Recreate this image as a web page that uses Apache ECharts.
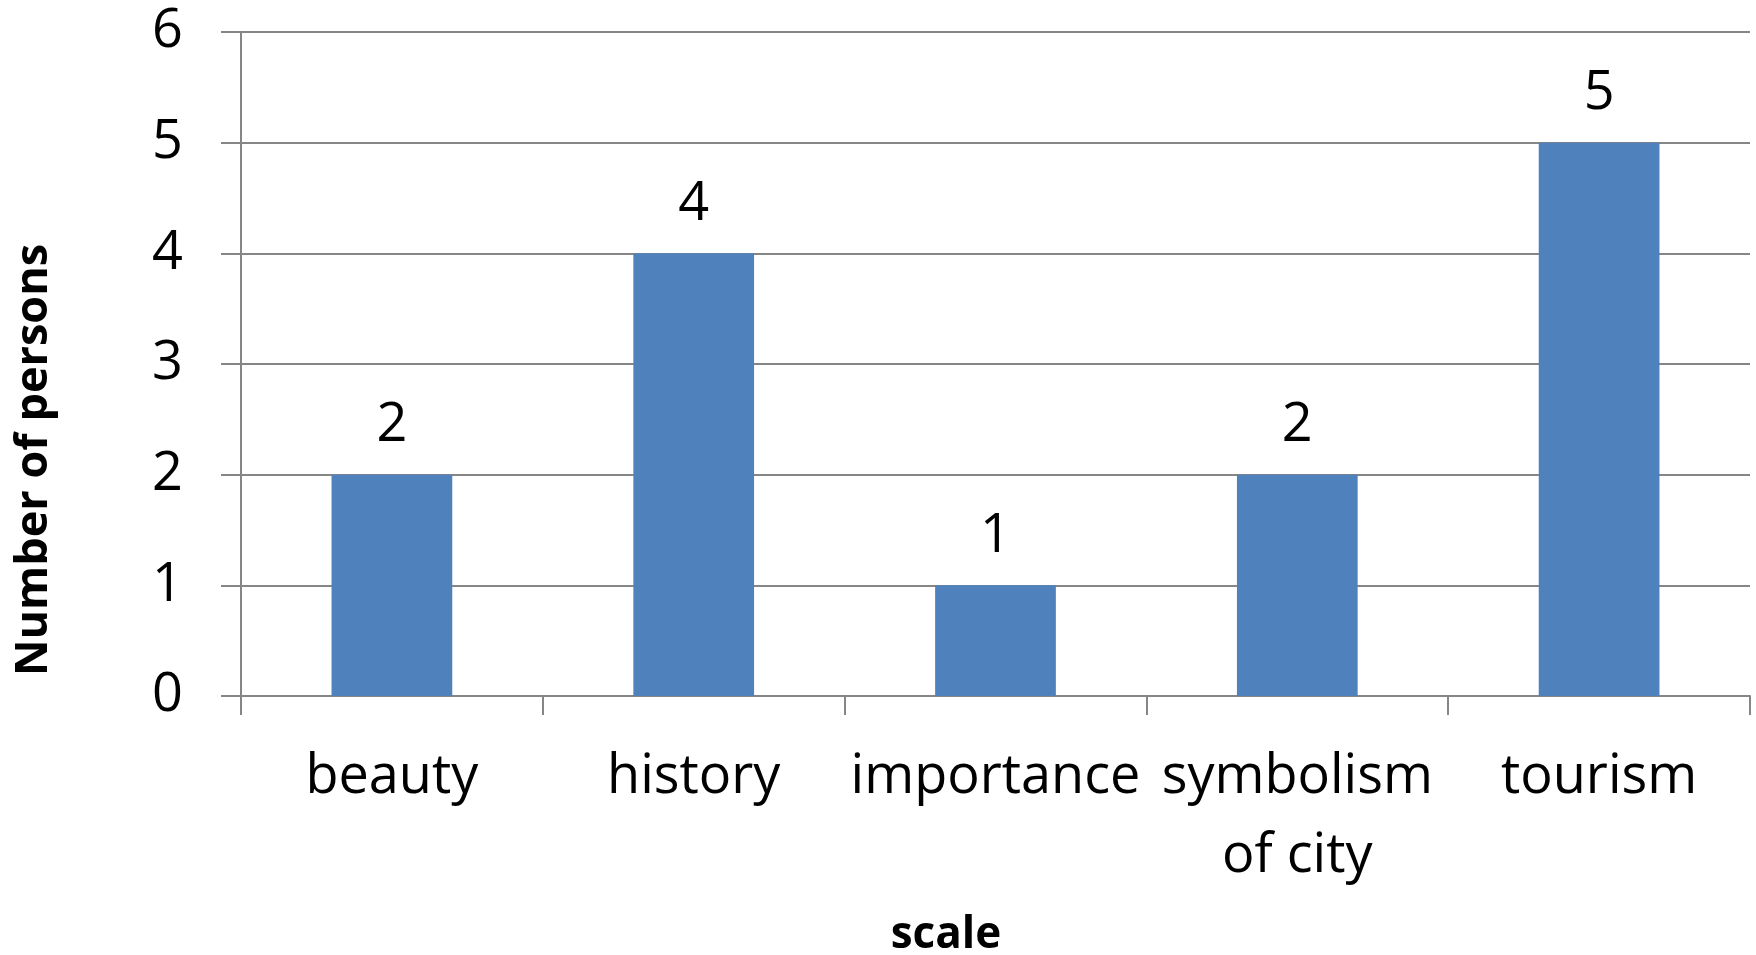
<!DOCTYPE html>
<html>
<head>
<meta charset="utf-8">
<script src="https://cdn.jsdelivr.net/npm/echarts@6/dist/echarts.min.js"></script>
<style>
html, body { margin: 0; padding: 0; background: #fff; }
#chart { width: 1756px; height: 955px; }
</style>
</head>
<body>
<div id="chart"></div>
<script>
// categories and counts
var categories = ['beauty', 'history', 'importance', 'symbolism of city', 'tourism'];
var persons = [2, 4, 1, 2, 5];
var yTicks = [0, 1, 2, 3, 4, 5, 6];

var gray = '#868686';
var font = '"Open Sans", "Noto Sans", sans-serif';

var chart = echarts.init(document.getElementById('chart'));
chart.setOption({
    animation: false,
    grid: { left: 241, right: 6, top: 32, bottom: 259, outerBoundsMode: 'none' },
    xAxis: {
        type: 'category',
        data: categories,
        name: 'scale',
        nameLocation: 'middle',
        nameGap: 217,
        nameTextStyle: {
            fontFamily: font, fontWeight: 'bold', fontSize: 44, lineHeight: 44,
            color: '#000', padding: [0, 99, 0, 0]
        },
        axisLine: { lineStyle: { color: gray, width: 2 } },
        axisTick: { show: true, length: 19, lineStyle: { color: gray, width: 2 } },
        axisLabel: {
            margin: 42,
            fontFamily: font, fontSize: 54, lineHeight: 79, color: '#000',
            interval: 0,
            formatter: function (v) { return v.replace('symbolism ', 'symbolism\n'); }
        }
    },
    yAxis: {
        type: 'value',
        min: 0,
        max: yTicks[yTicks.length - 1],
        interval: 1,
        name: 'Number of persons',
        nameLocation: 'middle',
        nameRotate: 90,
        nameGap: 184,
        nameTextStyle: {
            fontFamily: font, fontWeight: 'bold', fontSize: 45, lineHeight: 46,
            color: '#000', padding: [0, 192, 0, 0]
        },
        axisLine: { show: true, lineStyle: { color: gray, width: 2 } },
        axisTick: { show: true, length: 20, lineStyle: { color: gray, width: 2 } },
        axisLabel: { margin: 58, fontFamily: font, fontSize: 54, color: '#000' },
        splitLine: { lineStyle: { color: gray, width: 2 } }
    },
    series: [{
        type: 'bar',
        data: persons,
        barWidth: '40%',
        itemStyle: { color: '#4F81BD' },
        label: {
            show: true,
            position: 'top',
            distance: 22,
            fontFamily: font, fontSize: 54, color: '#000'
        }
    }]
});
</script>
</body>
</html>
